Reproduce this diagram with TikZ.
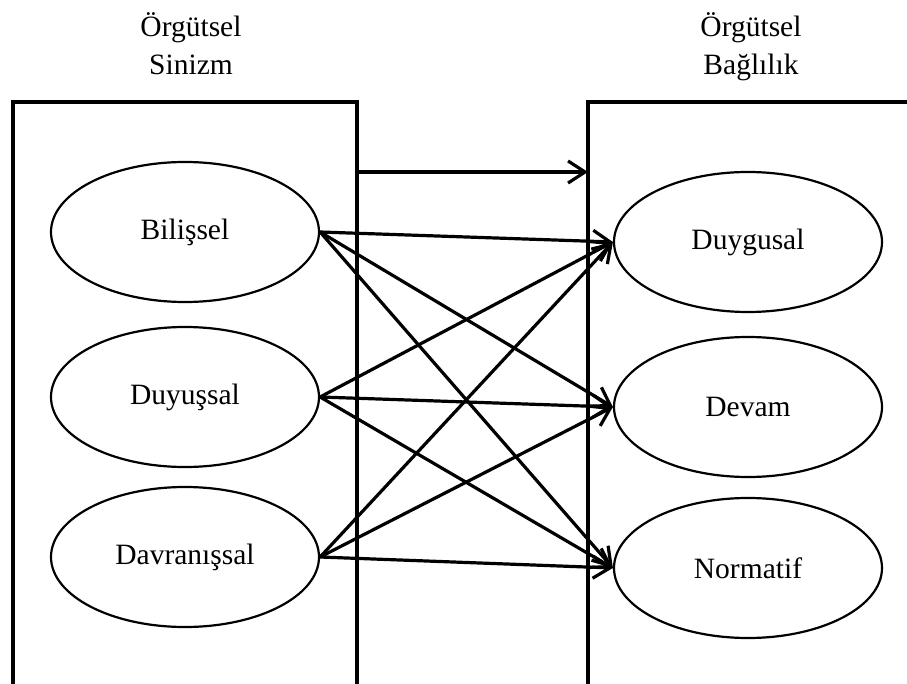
\documentclass[tikz,border=0pt]{standalone}
\usepackage{fontspec}
\setmainfont{Liberation Serif}
\usetikzlibrary{shapes.geometric,arrows.meta}

\begin{document}
\begin{tikzpicture}[x=1pt,y=-1pt,
  every node/.style={font=\fontsize{29.5}{38}\selectfont},
  dim/.style={ellipse,draw,line width=2.2pt,minimum width=268pt,minimum height=140pt,inner sep=0pt},
  frame/.style={line width=3.4pt,line join=miter},
  link/.style={line width=3.2pt,-{Straight Barb[length=17pt,width=22pt,line width=3.2pt]}}]
\useasboundingbox (0,0) rectangle (907,684);

% group frames (open at the bottom)
\draw[frame] (13,690) -- (13,102) -- (357,102) -- (357,690);
\draw[frame] (588,690) -- (588,102) -- (912,102);

% group titles
\node[anchor=base] (t1a) at (191,37) {Örgütsel};
\node[anchor=base] (t1b) at (191,75) {Sinizm};
\node[anchor=base] (t2a) at (751,37) {Örgütsel};
\node[anchor=base] (t2b) at (751,75) {Bağlılık};

% sub-dimensions
\node[dim] (bil) at (185,232) {Bilişsel};
\node[dim] (duy) at (185,397) {Duyuşsal};
\node[dim] (dav) at (185,557) {Davranışsal};
\node[dim] (dug) at (748,242) {Duygusal};
\node[dim] (dev) at (748,407) {Devam};
\node[dim] (nor) at (748,568) {Normatif};

% overall effect between the groups
\coordinate (ga) at (357,172);
\coordinate (gb) at (588,172);
\draw[link] (ga) -- (gb);

% every dimension to every dimension
\foreach \s in {bil,duy,dav}
  \foreach \t in {dug,dev,nor}
    \draw[link] (\s.east) -- (\t.west);
\end{tikzpicture}
\end{document}
